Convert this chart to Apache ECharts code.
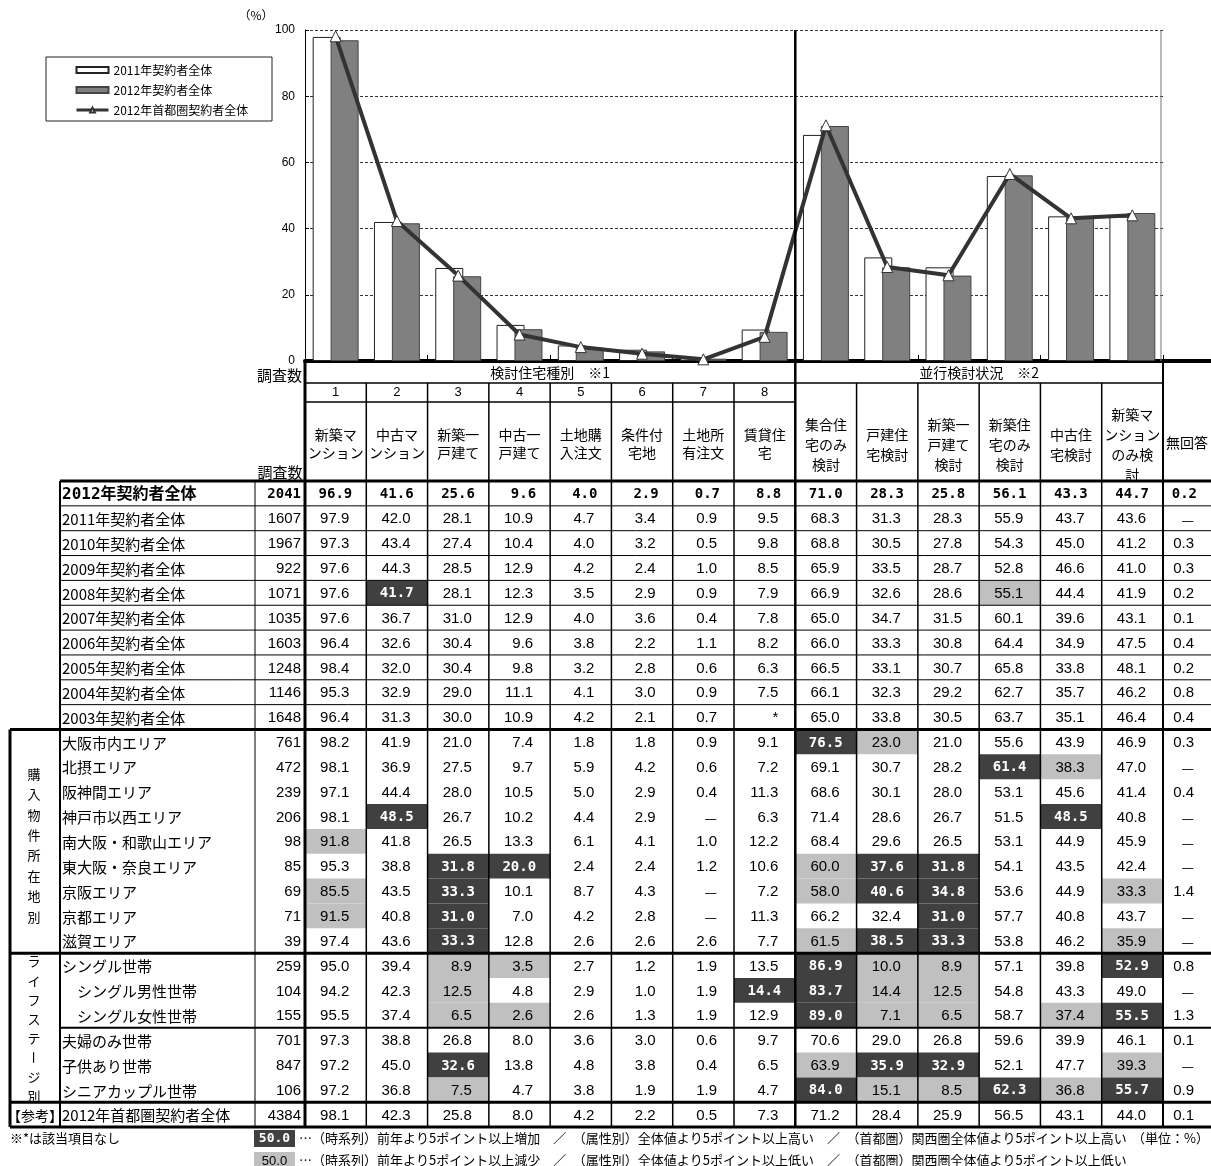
<!DOCTYPE html>
<html>
<head>
<meta charset="utf-8">
<script src="https://cdn.jsdelivr.net/npm/echarts@6/dist/echarts.min.js"></script>
<style>
  html, body { margin: 0; padding: 0; background: #fff; }
  #chart { width: 1211px; height: 1166px; }
</style>
</head>
<body>
<div id="chart"></div>
<script>
// ---- categories & headings ----
const housingTypes = [
  '新築マ\nンション', '中古マ\nンション', '新築一\n戸建て', '中古一\n戸建て',
  '土地購\n入注文', '条件付\n宅地', '土地所\n有注文', '賃貸住\n宅',
  '集合住\n宅のみ\n検討', '戸建住\n宅検討', '新築一\n戸建て\n検討', '新築住\n宅のみ\n検討',
  '中古住\n宅検討', '新築マ\nンション\nのみ検\n討'
];
const typeNumbers = ['1', '2', '3', '4', '5', '6', '7', '8', '', '', '', '', '', ''];
const groupTitles = ['検討住宅種別　※1', '並行検討状況　※2'];
const noAnswerTitle = '無回答';
const countTitle = '調査数';
const legendNames = ['2011年契約者全体', '2012年契約者全体', '2012年首都圏契約者全体'];

const rowLabels = [
  '2012年契約者全体', '2011年契約者全体', '2010年契約者全体', '2009年契約者全体',
  '2008年契約者全体', '2007年契約者全体', '2006年契約者全体', '2005年契約者全体',
  '2004年契約者全体', '2003年契約者全体',
  '大阪市内エリア', '北摂エリア', '阪神間エリア', '神戸市以西エリア', '南大阪・和歌山エリア',
  '東大阪・奈良エリア', '京阪エリア', '京都エリア', '滋賀エリア',
  'シングル世帯', '　シングル男性世帯', '　シングル女性世帯', '夫婦のみ世帯', '子供あり世帯',
  'シニアカップル世帯', '2012年首都圏契約者全体'
];
const sampleCounts = [2041, 1607, 1967, 922, 1071, 1035, 1603, 1248, 1146, 1648,
  761, 472, 239, 206, 98, 85, 69, 71, 39, 259, 104, 155, 701, 847, 106, 4384];

// ---- values (%) ; null = —, '*' = 該当項目なし ----
const share2012 = [96.9, 41.6, 25.6, 9.6, 4.0, 2.9, 0.7, 8.8, 71.0, 28.3, 25.8, 56.1, 43.3, 44.7];
const share2011 = [97.9, 42.0, 28.1, 10.9, 4.7, 3.4, 0.9, 9.5, 68.3, 31.3, 28.3, 55.9, 43.7, 43.6];
const shareShutoken2012 = [98.1, 42.3, 25.8, 8.0, 4.2, 2.2, 0.5, 7.3, 71.2, 28.4, 25.9, 56.5, 43.1, 44.0];

const yearShares = [
  [97.3, 43.4, 27.4, 10.4, 4.0, 3.2, 0.5, 9.8, 68.8, 30.5, 27.8, 54.3, 45.0, 41.2],
  [97.6, 44.3, 28.5, 12.9, 4.2, 2.4, 1.0, 8.5, 65.9, 33.5, 28.7, 52.8, 46.6, 41.0],
  [97.6, 41.7, 28.1, 12.3, 3.5, 2.9, 0.9, 7.9, 66.9, 32.6, 28.6, 55.1, 44.4, 41.9],
  [97.6, 36.7, 31.0, 12.9, 4.0, 3.6, 0.4, 7.8, 65.0, 34.7, 31.5, 60.1, 39.6, 43.1],
  [96.4, 32.6, 30.4, 9.6, 3.8, 2.2, 1.1, 8.2, 66.0, 33.3, 30.8, 64.4, 34.9, 47.5],
  [98.4, 32.0, 30.4, 9.8, 3.2, 2.8, 0.6, 6.3, 66.5, 33.1, 30.7, 65.8, 33.8, 48.1],
  [95.3, 32.9, 29.0, 11.1, 4.1, 3.0, 0.9, 7.5, 66.1, 32.3, 29.2, 62.7, 35.7, 46.2],
  [96.4, 31.3, 30.0, 10.9, 4.2, 2.1, 0.7, '*', 65.0, 33.8, 30.5, 63.7, 35.1, 46.4]
];
const areaShares = [
  [98.2, 41.9, 21.0, 7.4, 1.8, 1.8, 0.9, 9.1, 76.5, 23.0, 21.0, 55.6, 43.9, 46.9],
  [98.1, 36.9, 27.5, 9.7, 5.9, 4.2, 0.6, 7.2, 69.1, 30.7, 28.2, 61.4, 38.3, 47.0],
  [97.1, 44.4, 28.0, 10.5, 5.0, 2.9, 0.4, 11.3, 68.6, 30.1, 28.0, 53.1, 45.6, 41.4],
  [98.1, 48.5, 26.7, 10.2, 4.4, 2.9, null, 6.3, 71.4, 28.6, 26.7, 51.5, 48.5, 40.8],
  [91.8, 41.8, 26.5, 13.3, 6.1, 4.1, 1.0, 12.2, 68.4, 29.6, 26.5, 53.1, 44.9, 45.9],
  [95.3, 38.8, 31.8, 20.0, 2.4, 2.4, 1.2, 10.6, 60.0, 37.6, 31.8, 54.1, 43.5, 42.4],
  [85.5, 43.5, 33.3, 10.1, 8.7, 4.3, null, 7.2, 58.0, 40.6, 34.8, 53.6, 44.9, 33.3],
  [91.5, 40.8, 31.0, 7.0, 4.2, 2.8, null, 11.3, 66.2, 32.4, 31.0, 57.7, 40.8, 43.7],
  [97.4, 43.6, 33.3, 12.8, 2.6, 2.6, 2.6, 7.7, 61.5, 38.5, 33.3, 53.8, 46.2, 35.9]
];
const lifeShares = [
  [95.0, 39.4, 8.9, 3.5, 2.7, 1.2, 1.9, 13.5, 86.9, 10.0, 8.9, 57.1, 39.8, 52.9],
  [94.2, 42.3, 12.5, 4.8, 2.9, 1.0, 1.9, 14.4, 83.7, 14.4, 12.5, 54.8, 43.3, 49.0],
  [95.5, 37.4, 6.5, 2.6, 2.6, 1.3, 1.9, 12.9, 89.0, 7.1, 6.5, 58.7, 37.4, 55.5],
  [97.3, 38.8, 26.8, 8.0, 3.6, 3.0, 0.6, 9.7, 70.6, 29.0, 26.8, 59.6, 39.9, 46.1],
  [97.2, 45.0, 32.6, 13.8, 4.8, 3.8, 0.4, 6.5, 63.9, 35.9, 32.9, 52.1, 47.7, 39.3],
  [97.2, 36.8, 7.5, 4.7, 3.8, 1.9, 1.9, 4.7, 84.0, 15.1, 8.5, 62.3, 36.8, 55.7]
];
const noAnswerShares = [0.2, null, 0.3, 0.3, 0.2, 0.1, 0.4, 0.2, 0.8, 0.4,
  0.3, null, 0.4, null, null, null, 1.4, null, null,
  0.8, null, 1.3, 0.1, null, 0.9, 0.1];

// highlighted cells [row, column]
const risingCells = [[4, 1], [10, 8], [11, 11], [13, 1], [13, 12], [15, 2], [15, 3], [15, 9], [15, 10],
  [16, 2], [16, 9], [16, 10], [17, 2], [17, 10], [18, 2], [18, 9], [18, 10], [19, 8], [19, 13],
  [20, 7], [20, 8], [21, 8], [21, 13], [23, 2], [23, 9], [23, 10], [24, 8], [24, 11], [24, 13]];
const fallingCells = [[4, 11], [10, 9], [11, 12], [14, 0], [15, 8], [16, 0], [16, 8], [16, 13], [17, 0],
  [18, 8], [18, 13], [19, 2], [19, 3], [19, 9], [19, 10], [20, 2], [20, 9], [20, 10],
  [21, 2], [21, 3], [21, 9], [21, 10], [21, 12], [23, 8], [23, 13], [24, 2], [24, 9], [24, 10], [24, 12]];

const areaGroupTitle = '購入物件所在地別';
const lifeGroupTitle = 'ライフステージ別';
const refGroupTitle = '【参考】';
const footNote = '※*は該当項目なし';
const risingNote = '…（時系列）前年より5ポイント以上増加　／　（属性別）全体値より5ポイント以上高い　／　（首都圏）関西圏全体値より5ポイント以上高い';
const fallingNote = '…（時系列）前年より5ポイント以上減少　／　（属性別）全体値より5ポイント以上低い　／　（首都圏）関西圏全体値より5ポイント以上低い';
const unitNote = '（単位：%）';
const sampleLegendValue = '50.0';

// ---- layout ----
const JP = '"Noto Sans CJK JP", sans-serif';
const NUM = '"Liberation Sans Narrow", "Liberation Sans", sans-serif';
const MONO = '"DejaVu Sans Mono", monospace';
const DARK = '#404040', LIGHT = '#c0c0c0';
const PLOT_L = 305, PLOT_T = 30, PLOT_W = 858, PLOT_H = 331;
const TBL_TOP = 481, ROW_H = 24.85, N_ROWS = rowLabels.length, TBL_H = ROW_H * N_ROWS;
const COL_W = PLOT_W / housingTypes.length;
const rowY = k => TBL_TOP + k * ROW_H;
const colX = i => PLOT_L + i * COL_W;
const TBL_BOTTOM = rowY(N_ROWS);

const allRows = [share2012, share2011, ...yearShares, ...areaShares, ...lifeShares, shareShutoken2012];
const shadeOf = {};
risingCells.forEach(([r, c]) => { shadeOf[r + '_' + c] = 'D'; });
fallingCells.forEach(([r, c]) => { shadeOf[r + '_' + c] = 'L'; });

function fmt(v) {
  if (v === null) return '—';
  if (typeof v === 'string') return v;
  return v.toFixed(1);
}

const dataCells = [];
allRows.forEach((row, r) => row.forEach((v, c) => {
  dataCells.push({ col: c, row: r, text: fmt(v), shade: shadeOf[r + '_' + c] || '', bold: r === 0 });
}));
const noAnswerCells = noAnswerShares.map((v, r) => ({ col: 0, row: r, text: fmt(v), shade: '', bold: r === 0 }));
const countCells = sampleCounts.map((v, r) => ({ col: 0, row: r, text: String(v), shade: '', bold: r === 0 }));
const labelCells = rowLabels.map((v, r) => ({ col: 0, row: r, text: v, shade: '', bold: r === 0, label: true }));

function cellText(cell) {
  if (cell.label) {
    return cell.bold
      ? { fontSize: 16, fontWeight: 'bold', fontFamily: '"DejaVu Sans Mono", "Noto Sans CJK JP", monospace', fill: '#000' }
      : { fontSize: 15, fontWeight: 'normal', fontFamily: JP, fill: '#000' };
  }
  if (cell.shade === 'D') return { fontSize: 14, fontWeight: 'bold', fontFamily: MONO, fill: '#fff' };
  if (cell.bold) return { fontSize: 14, fontWeight: 'bold', fontFamily: MONO, fill: '#000' };
  if (cell.text === '—') return { fontSize: 14, fontWeight: 'normal', fontFamily: JP, fill: '#000' };
  return { fontSize: 15, fontWeight: 'normal', fontFamily: NUM, fill: '#000' };
}

// one table block drawn in its own grid: rows / columns come from category axes
function tableSeries(axisIdx, cells, mode) {
  return {
    type: 'custom', xAxisIndex: axisIdx, yAxisIndex: axisIdx, silent: true, z: 5,
    data: cells.map(c => [c.col, c.row]),
    encode: { x: 0, y: 1 },
    renderItem: (params, api) => {
      const cell = cells[params.dataIndex];
      const p = api.coord([api.value(0), api.value(1)]);
      const s = api.size([1, 1]);
      const left = p[0] - s[0] / 2, top = p[1] - s[1] / 2;
      const children = [];
      if (cell.shade) {
        children.push({ type: 'rect', shape: { x: left, y: top, width: s[0], height: s[1] },
          style: { fill: cell.shade === 'D' ? DARK : LIGHT } });
      }
      let tx, align;
      if (mode === 'label') { tx = left + 2; align = 'left'; }
      else if (mode === 'count') { tx = left + s[0] - 4; align = 'right'; }
      else { tx = left + s[0] - ((cell.bold || cell.shade === 'D') ? 14 : 17); align = 'right'; }
      children.push({ type: 'text', style: Object.assign({
        text: cell.text, x: tx, y: p[1] + 1, align: align, textAlign: align,
        verticalAlign: 'middle', textVerticalAlign: 'middle'
      }, cellText(cell)) });
      return { type: 'group', children: children };
    }
  };
}

// ---- static table rules and headings ----
const gfx = [];
function hline(y, x1, x2, w) {
  gfx.push({ type: 'line', z: 100, silent: true, shape: { x1: x1, y1: y, x2: x2, y2: y }, style: { stroke: '#000', lineWidth: w } });
}
function vline(x, y1, y2, w, color) {
  gfx.push({ type: 'line', z: 100, silent: true, shape: { x1: x, y1: y1, x2: x, y2: y2 }, style: { stroke: color || '#000', lineWidth: w } });
}
function text(str, x, y, opts) {
  gfx.push({
    type: 'text', z: 101, silent: true, x: x, y: y, rotation: opts.rotation || 0,
    style: {
      text: str, x: 0, y: 0,
      align: opts.align || 'left', textAlign: opts.align || 'left',
      verticalAlign: 'middle', textVerticalAlign: 'middle',
      fontSize: opts.size || 13, fontFamily: opts.family || JP,
      fontWeight: opts.weight || 'normal', fill: opts.fill || '#000',
      lineHeight: opts.lineHeight
    }
  });
}

hline(PLOT_T + PLOT_H, PLOT_L + PLOT_W, 1211, 4);
hline(383, PLOT_L, colX(14), 1.5);
hline(402, PLOT_L, colX(8), 1.5);
hline(rowY(0), 60, 1211, 3);
for (let k = 1; k <= 9; k++) hline(rowY(k), 60, 1211, 1);
hline(rowY(10), 10, 1211, 3);
hline(rowY(19), 10, 1211, 3);
hline(rowY(22), 60, 1211, 2);
hline(rowY(25), 10, 1211, 3);
hline(rowY(26), 10, 1211, 3);

vline(10, rowY(10), TBL_BOTTOM, 3);
vline(60, rowY(0), TBL_BOTTOM, 2);
vline(255, rowY(0), TBL_BOTTOM, 1);
vline(PLOT_L, PLOT_T + PLOT_H, TBL_BOTTOM, 3);
for (let i = 1; i < 14; i++) if (i !== 8) vline(colX(i), 383, TBL_BOTTOM, 1.5);
vline(colX(8), PLOT_T, TBL_BOTTOM, 2.5);
vline(colX(14), PLOT_T + PLOT_H, TBL_BOTTOM, 2);
vline(PLOT_L + PLOT_W - 2, PLOT_T, PLOT_T + PLOT_H, 1, '#777');

text('（%）', 256, 15, { align: 'center', size: 12 });
text(countTitle, 302, 375, { align: 'right', size: 15 });
text(countTitle, 280, 472, { align: 'center', size: 15 });
text(groupTitles[0], (colX(0) + colX(8)) / 2, 373, { align: 'center', size: 14 });
text(groupTitles[1], (colX(8) + colX(14)) / 2, 373, { align: 'center', size: 14 });
housingTypes.forEach((name, i) => {
  const cx = colX(i) + COL_W / 2;
  if (typeNumbers[i]) text(typeNumbers[i], cx, 392, { align: 'center', size: 13, family: NUM });
  text(name, cx, i < 8 ? 444 : 445, { align: 'center', size: 14, lineHeight: i < 8 ? 18 : 20 });
});
text(noAnswerTitle, (colX(14) + 1211) / 2, 443, { align: 'center', size: 14 });

// vertical group captions
function verticalCaption(str, cx, cy, step) {
  const chars = Array.from(str);
  chars.forEach((ch, i) => {
    const y = cy + (i - (chars.length - 1) / 2) * step;
    text(ch, cx, y, { align: 'center', size: 13, rotation: ch === 'ー' ? -Math.PI / 2 : 0 });
  });
}
verticalCaption(areaGroupTitle, 34, (rowY(10) + rowY(19)) / 2 + 4, 20.4);
verticalCaption(lifeGroupTitle, 34, (rowY(19) + rowY(25)) / 2 + 1, 19.2);
text(refGroupTitle, 35, (rowY(25) + rowY(26)) / 2 + 1, { align: 'center', size: 14 });

// legend frame
gfx.push({ type: 'rect', z: 1, silent: true, shape: { x: 46, y: 57, width: 226, height: 64 },
  style: { fill: '#fff', stroke: '#222', lineWidth: 1 } });

// footer
text(footNote, 10, 1138, { size: 13 });
gfx.push({ type: 'rect', z: 100, silent: true, shape: { x: 254, y: 1130, width: 41, height: 17 }, style: { fill: DARK } });
text(sampleLegendValue, 274.5, 1139, { align: 'center', size: 13, family: MONO, weight: 'bold', fill: '#fff' });
gfx.push({ type: 'rect', z: 100, silent: true, shape: { x: 254, y: 1152, width: 41, height: 17 }, style: { fill: LIGHT } });
text(sampleLegendValue, 274.5, 1161, { align: 'center', size: 13, family: NUM });
text(risingNote, 299, 1138, { size: 13 });
text(fallingNote, 299, 1160, { size: 13 });
text(unitNote, 1209, 1138, { align: 'right', size: 13 });

// ---- axes ----
const hiddenCat = (gridIndex, data, extra) => Object.assign({
  type: 'category', gridIndex: gridIndex, data: data,
  axisLine: { show: false }, axisTick: { show: false }, axisLabel: { show: false }, splitLine: { show: false }
}, extra || {});
const rowAxisData = rowLabels.map((_, i) => String(i));

const option = {
  animation: false,
  backgroundColor: '#fff',
  textStyle: { fontFamily: JP },
  legend: {
    data: [
      { name: legendNames[0], icon: 'rect' },
      { name: legendNames[1], icon: 'rect' },
      { name: legendNames[2], lineStyle: { width: 3 } }
    ],
    orient: 'vertical', left: 70, top: 58, itemWidth: 32, itemHeight: 6, itemGap: 6,
    textStyle: { fontSize: 12, color: '#000', fontFamily: JP, lineHeight: 14 },
    selectedMode: false, z: 10
  },
  grid: [
    { left: PLOT_L, top: PLOT_T, width: PLOT_W, height: PLOT_H },
    { left: PLOT_L, top: TBL_TOP, width: PLOT_W, height: TBL_H },
    { left: colX(14), top: TBL_TOP, width: 1211 - colX(14), height: TBL_H },
    { left: 255, top: TBL_TOP, width: 50, height: TBL_H },
    { left: 60, top: TBL_TOP, width: 195, height: TBL_H }
  ],
  xAxis: [
    { type: 'category', gridIndex: 0, data: housingTypes,
      axisLine: { lineStyle: { color: '#000', width: 4 } },
      axisTick: { show: true, inside: true, length: 6, lineStyle: { color: '#000', width: 1 } },
      axisLabel: { show: false } },
    hiddenCat(1, housingTypes),
    hiddenCat(2, [noAnswerTitle]),
    hiddenCat(3, [countTitle]),
    hiddenCat(4, ['label'])
  ],
  yAxis: [
    { type: 'value', gridIndex: 0, min: 0, max: 100, interval: 20,
      axisLine: { show: true, lineStyle: { color: '#000', width: 1 } },
      axisTick: { show: true, inside: true, length: 4, lineStyle: { color: '#000' } },
      axisLabel: { fontSize: 12, color: '#000', fontFamily: '"Liberation Sans", Arial, sans-serif', margin: 10 },
      splitLine: { show: true, lineStyle: { color: '#333', type: [3, 2], width: 1 } } },
    hiddenCat(1, rowAxisData, { inverse: true }),
    hiddenCat(2, rowAxisData, { inverse: true }),
    hiddenCat(3, rowAxisData, { inverse: true }),
    hiddenCat(4, rowAxisData, { inverse: true })
  ],
  series: [
    { name: legendNames[0], type: 'bar', xAxisIndex: 0, yAxisIndex: 0, data: share2011,
      barWidth: 28, barGap: '-36%',
      itemStyle: { color: '#fff', borderColor: '#222', borderWidth: 1 } },
    { name: legendNames[1], type: 'bar', xAxisIndex: 0, yAxisIndex: 0, data: share2012,
      barWidth: 28,
      itemStyle: { color: '#808080', borderColor: '#444', borderWidth: 1 } },
    { name: legendNames[2], type: 'line', xAxisIndex: 0, yAxisIndex: 0, data: shareShutoken2012,
      symbol: 'triangle', symbolSize: 11, z: 4,
      lineStyle: { color: '#333', width: 4 },
      itemStyle: { color: '#fff', borderColor: '#333', borderWidth: 1 } },
    tableSeries(1, dataCells, 'data'),
    tableSeries(2, noAnswerCells, 'data'),
    tableSeries(3, countCells, 'count'),
    tableSeries(4, labelCells, 'label')
  ],
  graphic: { elements: gfx }
};

const chart = echarts.init(document.getElementById('chart'), null, { renderer: 'canvas' });
chart.setOption(option);
</script>
</body>
</html>
